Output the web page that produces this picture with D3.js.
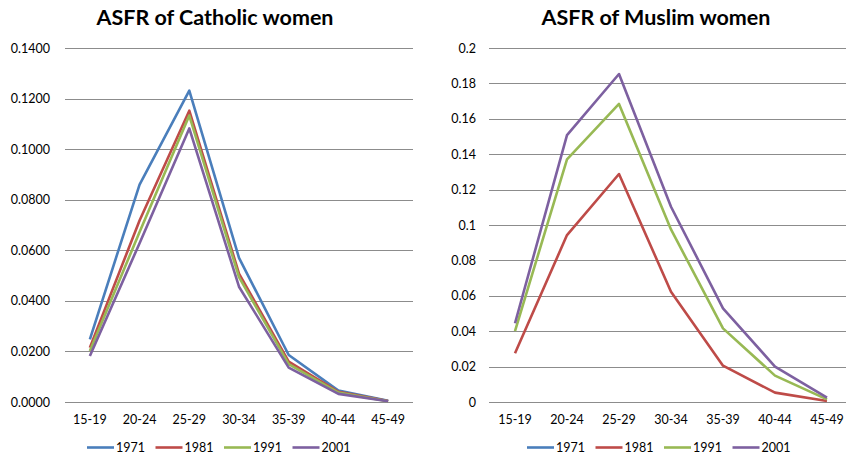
<!DOCTYPE html>
<html>
<head>
<meta charset="utf-8">
<script src="https://cdn.jsdelivr.net/npm/d3@7"></script>
<style>
  body { margin: 0; background: #fff; }
  svg { display: block; font-family: Lato, "Open Sans", sans-serif; }
  .grid line { stroke: #8c8c8c; stroke-width: 1; }
  .tick-label { font-size: 12.5px; fill: #000; }
  .title { font-size: 21.5px; font-weight: 700; fill: #000; }
</style>
</head>
<body>
<svg id="chart"></svg>
<script>
const AGE_GROUPS = ["15-19", "20-24", "25-29", "30-34", "35-39", "40-44", "45-49"];
const YEARS      = ["1971", "1981", "1991", "2001"];
const COLORS     = { "1971": "#4a7ebb", "1981": "#be4b48", "1991": "#98b954", "2001": "#7d60a0" };

// Catholic women
const CATH_1971 = [0.0248, 0.0860, 0.1231, 0.0570, 0.0186, 0.0045, 0.0005];
const CATH_1981 = [0.0215, 0.0718, 0.1152, 0.0508, 0.0160, 0.0040, 0.0004];
const CATH_1991 = [0.0202, 0.0672, 0.1133, 0.0494, 0.0150, 0.0037, 0.0003];
const CATH_2001 = [0.0182, 0.0628, 0.1082, 0.0456, 0.0136, 0.0032, 0.0003];

// Muslim women (no 1971 series)
const MUS_1971 = [];
const MUS_1981 = [0.0275, 0.0943, 0.1288, 0.0623, 0.0205, 0.0053, 0.0006];
const MUS_1991 = [0.0401, 0.1371, 0.1684, 0.0975, 0.0416, 0.0149, 0.0015];
const MUS_2001 = [0.0445, 0.1508, 0.1853, 0.1103, 0.0529, 0.0200, 0.0025];

const CATH_TICKS = [0, 0.02, 0.04, 0.06, 0.08, 0.10, 0.12, 0.14];
const MUS_TICKS  = [0, 0.02, 0.04, 0.06, 0.08, 0.10, 0.12, 0.14, 0.16, 0.18, 0.2];

const W = 846, H = 458;
const svg = d3.select("#chart").attr("width", W).attr("height", H);

const panels = [
  {
    title: "ASFR of Catholic women", titleX: 215,
    x0: 65, x1: 413, yMax: 0.14, ticks: CATH_TICKS, fmt: d3.format(".4f"), labelX: 50,
    series: { "1971": CATH_1971, "1981": CATH_1981, "1991": CATH_1991, "2001": CATH_2001 },
    legendX: 87
  },
  {
    title: "ASFR of Muslim women", titleX: 656,
    x0: 489, x1: 853, yMax: 0.2, ticks: MUS_TICKS, fmt: (d) => String(+d.toFixed(2)), labelX: 476,
    series: { "1971": MUS_1971, "1981": MUS_1981, "1991": MUS_1991, "2001": MUS_2001 },
    legendX: 527
  }
];

const Y_TOP = 48, Y_BOT = 402;

panels.forEach((p) => {
  const g = svg.append("g");

  const x = d3.scaleBand().domain(AGE_GROUPS).range([p.x0, p.x1]);
  const y = d3.scaleLinear().domain([0, p.yMax]).range([Y_BOT, Y_TOP]);

  g.append("text")
    .attr("class", "title")
    .attr("x", p.titleX)
    .attr("y", 25)
    .attr("text-anchor", "middle")
    .text(p.title);

  // gridlines
  g.append("g").attr("class", "grid")
    .selectAll("line")
    .data(p.ticks)
    .enter().append("line")
    .attr("x1", p.x0)
    .attr("x2", p.x1)
    .attr("y1", (d) => Math.round(y(d)) + 0.5)
    .attr("y2", (d) => Math.round(y(d)) + 0.5);

  // y labels
  g.append("g")
    .selectAll("text")
    .data(p.ticks)
    .enter().append("text")
    .attr("class", "tick-label")
    .attr("x", p.labelX)
    .attr("y", (d) => y(d) + 4.5)
    .attr("text-anchor", "end")
    .text(p.fmt);

  // x labels
  g.append("g")
    .selectAll("text")
    .data(AGE_GROUPS)
    .enter().append("text")
    .attr("class", "tick-label")
    .attr("x", (d) => x(d) + x.bandwidth() / 2)
    .attr("y", 424)
    .attr("text-anchor", "middle")
    .text((d) => d);

  // lines
  const line = d3.line()
    .x((d, i) => x(AGE_GROUPS[i]) + x.bandwidth() / 2)
    .y((d) => y(d));

  YEARS.forEach((yr) => {
    const vals = p.series[yr];
    if (!vals.length) return;
    g.append("path")
      .attr("d", line(vals))
      .attr("fill", "none")
      .attr("stroke", COLORS[yr])
      .attr("stroke-width", 2.6)
      .attr("stroke-linejoin", "round");
  });

  // legend
  YEARS.forEach((yr, i) => {
    const lx = p.legendX + i * 68.5;
    g.append("line")
      .attr("x1", lx).attr("x2", lx + 27)
      .attr("y1", 447.5).attr("y2", 447.5)
      .attr("stroke", COLORS[yr])
      .attr("stroke-width", 2.6);
    g.append("text")
      .attr("class", "tick-label")
      .attr("x", lx + 29)
      .attr("y", 452)
      .text(yr);
  });
});
</script>
</body>
</html>
